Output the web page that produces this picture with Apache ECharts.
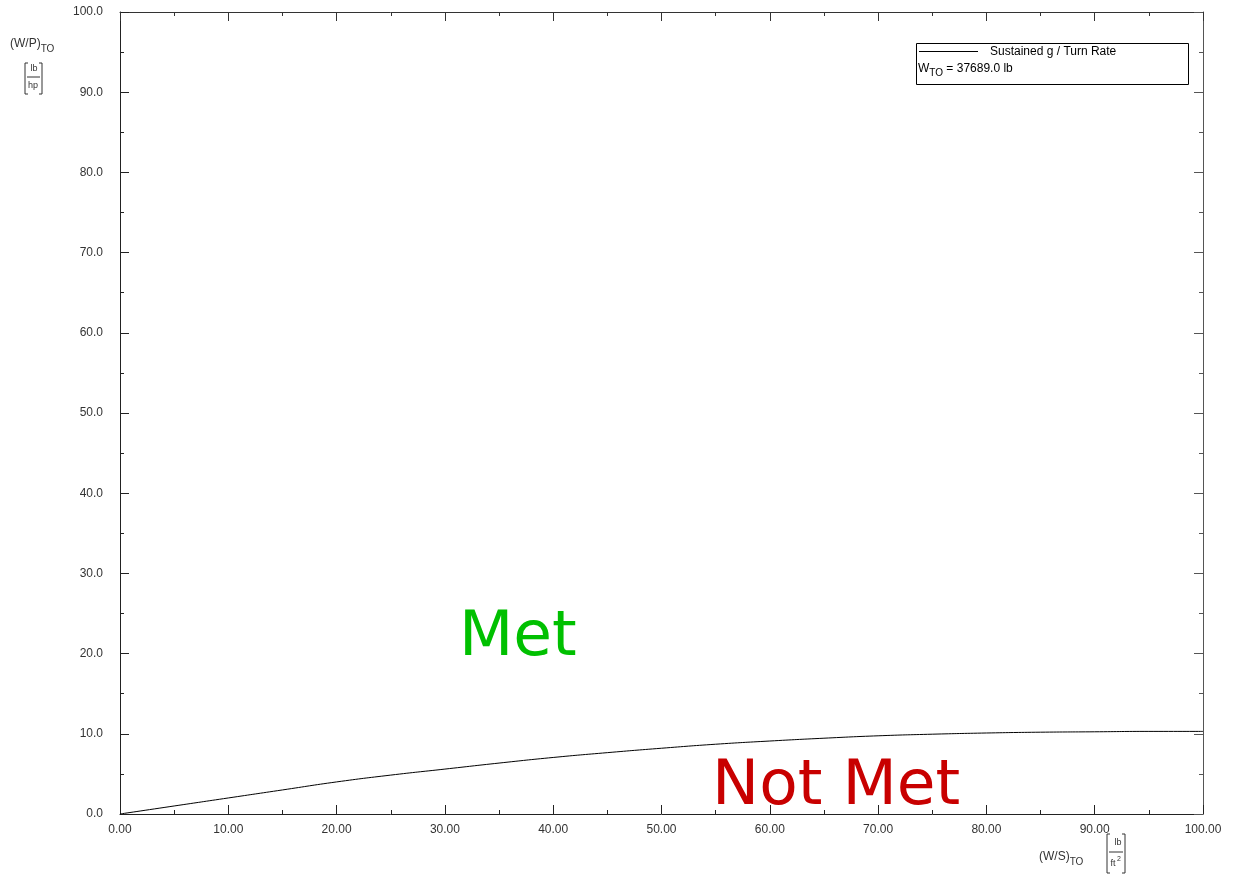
<!DOCTYPE html>
<html>
<head>
<meta charset="utf-8">
<script src="https://cdn.jsdelivr.net/npm/echarts@6/dist/echarts.min.js"></script>
<style>
    html, body { margin: 0; padding: 0; background: #fff; }
    #chart { width: 1238px; height: 878px; }
</style>
</head>
<body>
<div id="chart"></div>
<script>
// wing loading (W/S)TO, lb/ft^2
var wingLoading = [0, 5, 10, 15, 20, 25, 30, 35, 40, 45, 50, 55, 60, 65, 70, 75, 80, 85, 90, 95, 100];
// power loading (W/P)TO, lb/hp - sustained g / turn rate
var powerLoading = [0, 1.0, 2.0, 3.0, 4.0, 4.85, 5.6, 6.35, 7.05, 7.65, 8.2, 8.7, 9.1, 9.45, 9.75, 9.95, 10.1, 10.2, 10.25, 10.3, 10.3];
var seriesName = 'Sustained g / Turn Rate';
var takeoffWeight = '37689.0 lb';

var font = '"Liberation Sans", Arial, sans-serif';
var curve = wingLoading.map(function (x, i) { return [x, powerLoading[i]]; });

// 坐标轴通用样式
var axisBase = function (pos, color, showLabel, fmt) {
    return {
        type: 'value',
        position: pos,
        min: 0,
        max: 100,
        interval: 10,
        axisLine: { show: true, onZero: false, lineStyle: { color: color, width: 1 } },
        axisTick: { show: true, inside: true, length: 9, lineStyle: { color: color } },
        minorTick: { show: true, splitNumber: 2, length: 4, lineStyle: { color: color } },
        splitLine: { show: false },
        axisLabel: {
            show: showLabel,
            color: '#333',
            fontFamily: font,
            fontSize: 12,
            formatter: function (v) { return v.toFixed(fmt); }
        }
    };
};

var xBottom = axisBase('bottom', '#222', true, 2);
xBottom.axisLabel.margin = 10;
var xTop = axisBase('top', '#333', false, 2);
var yLeft = axisBase('left', '#222', true, 1);
yLeft.axisLabel.margin = 17;
var yRight = axisBase('right', '#555', false, 1);

var option = {
    animation: false,
    backgroundColor: '#fff',
    grid: { left: 120, right: 35, top: 12, bottom: 64 },
    xAxis: [xBottom, xTop],
    yAxis: [yLeft, yRight],
    series: [{
        name: seriesName,
        type: 'line',
        data: curve,
        smooth: true,
        symbol: 'none',
        lineStyle: { color: '#000', width: 1 }
    }],
    graphic: [
        // y axis title
        { type: 'text', left: 10, top: 38, style: {
            text: '{a|(W/P)}{s|TO}', fontFamily: font,
            rich: { a: { fontSize: 12, fontFamily: font, fill: '#333' },
                    s: { fontSize: 10, fontFamily: font, fill: '#333', padding: [10, 0, 0, 0] } } } },
        { type: 'line', shape: { x1: 25, y1: 63, x2: 25, y2: 94 }, style: { stroke: '#333', lineWidth: 1 } },
        { type: 'line', shape: { x1: 25, y1: 63, x2: 28, y2: 63 }, style: { stroke: '#333', lineWidth: 1 } },
        { type: 'line', shape: { x1: 25, y1: 94, x2: 28, y2: 94 }, style: { stroke: '#333', lineWidth: 1 } },
        { type: 'line', shape: { x1: 42, y1: 63, x2: 42, y2: 94 }, style: { stroke: '#333', lineWidth: 1 } },
        { type: 'line', shape: { x1: 39, y1: 63, x2: 42, y2: 63 }, style: { stroke: '#333', lineWidth: 1 } },
        { type: 'line', shape: { x1: 39, y1: 94, x2: 42, y2: 94 }, style: { stroke: '#333', lineWidth: 1 } },
        { type: 'line', shape: { x1: 27, y1: 77, x2: 40, y2: 77 }, style: { stroke: '#333', lineWidth: 1 } },
        { type: 'text', x: 34, y: 69, style: { text: 'lb', fontSize: 9, fontFamily: font, fill: '#333', align: 'center', verticalAlign: 'middle' } },
        { type: 'text', x: 33, y: 86, style: { text: 'hp', fontSize: 9, fontFamily: font, fill: '#333', align: 'center', verticalAlign: 'middle' } },

        // x axis title
        { type: 'text', left: 1039, top: 851, style: {
            text: '{a|(W/S)}{s|TO}', fontFamily: font,
            rich: { a: { fontSize: 12, fontFamily: font, fill: '#333' },
                    s: { fontSize: 10, fontFamily: font, fill: '#333', padding: [10, 0, 0, 0] } } } },
        { type: 'line', shape: { x1: 1107, y1: 834, x2: 1107, y2: 873 }, style: { stroke: '#333', lineWidth: 1 } },
        { type: 'line', shape: { x1: 1107, y1: 834, x2: 1110, y2: 834 }, style: { stroke: '#333', lineWidth: 1 } },
        { type: 'line', shape: { x1: 1107, y1: 873, x2: 1110, y2: 873 }, style: { stroke: '#333', lineWidth: 1 } },
        { type: 'line', shape: { x1: 1125, y1: 834, x2: 1125, y2: 873 }, style: { stroke: '#333', lineWidth: 1 } },
        { type: 'line', shape: { x1: 1122, y1: 834, x2: 1125, y2: 834 }, style: { stroke: '#333', lineWidth: 1 } },
        { type: 'line', shape: { x1: 1122, y1: 873, x2: 1125, y2: 873 }, style: { stroke: '#333', lineWidth: 1 } },
        { type: 'line', shape: { x1: 1109, y1: 852, x2: 1123, y2: 852 }, style: { stroke: '#333', lineWidth: 1 } },
        { type: 'text', x: 1118, y: 843, style: { text: 'lb', fontSize: 9, fontFamily: font, fill: '#333', align: 'center', verticalAlign: 'middle' } },
        { type: 'text', x: 1113, y: 864, style: { text: 'ft', fontSize: 9, fontFamily: font, fill: '#333', align: 'center', verticalAlign: 'middle' } },
        { type: 'text', x: 1119, y: 859, style: { text: '2', fontSize: 7, fontFamily: font, fill: '#333', align: 'center', verticalAlign: 'middle' } },

        // legend box
        { type: 'rect', shape: { x: 916.5, y: 43.5, width: 272, height: 41 }, style: { fill: '#fff', stroke: '#000', lineWidth: 1 } },
        { type: 'line', shape: { x1: 919, y1: 51.5, x2: 978, y2: 51.5 }, style: { stroke: '#000', lineWidth: 1 } },
        { type: 'text', x: 990, y: 52, style: { text: seriesName, fontSize: 12, fontFamily: font, fill: '#000', verticalAlign: 'middle' } },
        { type: 'text', left: 918, top: 63, style: {
            text: '{a|W}{s|TO}{a| = ' + takeoffWeight + '}', fontFamily: font,
            rich: { a: { fontSize: 12, fontFamily: font, fill: '#000' },
                    s: { fontSize: 10, fontFamily: font, fill: '#000', padding: [8, 0, 0, 0] } } } },

        // region labels
        { type: 'text', left: 459, top: 607, style: { text: 'Met', fontSize: 63, fontFamily: '"DejaVu Sans", sans-serif', fill: '#00c000' } },
        { type: 'text', left: 712, top: 756, style: { text: 'Not Met', fontSize: 63, fontFamily: '"DejaVu Sans", sans-serif', fill: '#c80000' } }
    ]
};

var myChart = echarts.init(document.getElementById('chart'));
myChart.setOption(option);
window.onresize = myChart.resize;
</script>
</body>
</html>
